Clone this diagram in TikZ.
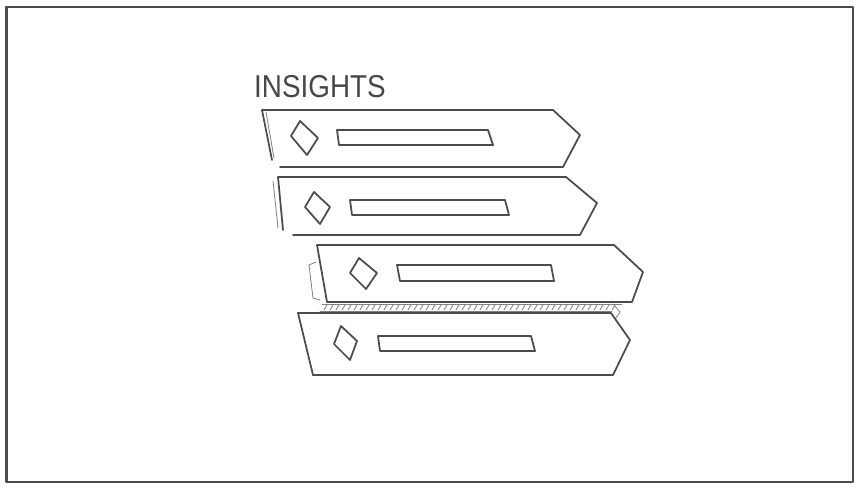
\documentclass[tikz,border=0pt]{standalone}
\usepackage{fontspec}
\newfontfamily\handfont{Liberation Sans}
\usetikzlibrary{positioning}

\begin{document}
\begin{tikzpicture}[x=0.03cm,y=-0.03cm,line join=round,line cap=round,
  pen/.style={draw=black!70,line width=1.5pt},
  thin pen/.style={draw=black!50,line width=0.7pt},
  title/.style={font=\handfont\fontsize{27}{27}\selectfont,text=black!72,inner sep=0pt,anchor=west,xscale=0.88}]

  \useasboundingbox (0,0) rectangle (862,488);

  % frame
  \draw[pen,line width=1.4pt] (6,7) -- (853,7) -- (853,482) -- (6,482) -- cycle;
  \draw[pen,line width=2pt] (7,7) -- (7,482);

  \node[title] (title) at (254,87) {INSIGHTS};

  % bar 1
  \draw[pen] (262,110) -- (553,110) -- (580,135) -- (563,167) -- (280,167);
  \draw[pen] (262,110) -- (272,160);
  \draw[thin pen] (266,112) -- (274,158);
  \draw[pen] (300,121) -- (318,138) -- (307,155) -- (291,136) -- cycle;
  \draw[pen] (337,130) -- (488,130) -- (493,145) -- (339,145) -- cycle;

  % bar 2
  \draw[pen] (278,177) -- (566,177) -- (597,203) -- (580,235) -- (293,235);
  \draw[pen] (278,177) -- (283,230);
  \draw[thin pen] (273,181) -- (278,228);
  \draw[pen] (314,192) -- (330,207) -- (320,224) -- (305,207) -- cycle;
  \draw[pen] (350,200) -- (505,200) -- (509,215) -- (352,215) -- cycle;

  % bar 3
  \draw[pen] (317,245) -- (614,245) -- (643,272) -- (632,302) -- (327,302);
  \draw[pen] (317,245) -- (327,302);
  \draw[thin pen] (316,262) -- (309,265) -- (313,298) -- (320,300);
  \draw[pen] (359,258) -- (377,273) -- (366,289) -- (350,273) -- cycle;
  \draw[pen] (397,265) -- (551,265) -- (554,281) -- (400,281) -- cycle;

  % shadow strip between bar 3 and bar 4
  \draw[thin pen] (322,304) -- (622,304);
  \draw[thin pen] (320,311) -- (612,311);
  \foreach \i in {0,...,48}
    \draw[thin pen] (324+6*\i,310) -- (327+6*\i,305);
  \draw[thin pen] (613,304) -- (620,312) -- (616,318);

  % bar 4
  \draw[pen] (298,313) -- (611,313) -- (630,340) -- (613,375) -- (313,375);
  \draw[pen] (298,313) -- (313,375);
  \draw[pen] (341,326) -- (357,341) -- (350,360) -- (334,344) -- cycle;
  \draw[pen] (378,336) -- (531,336) -- (535,351) -- (380,351) -- cycle;

\end{tikzpicture}
\end{document}
